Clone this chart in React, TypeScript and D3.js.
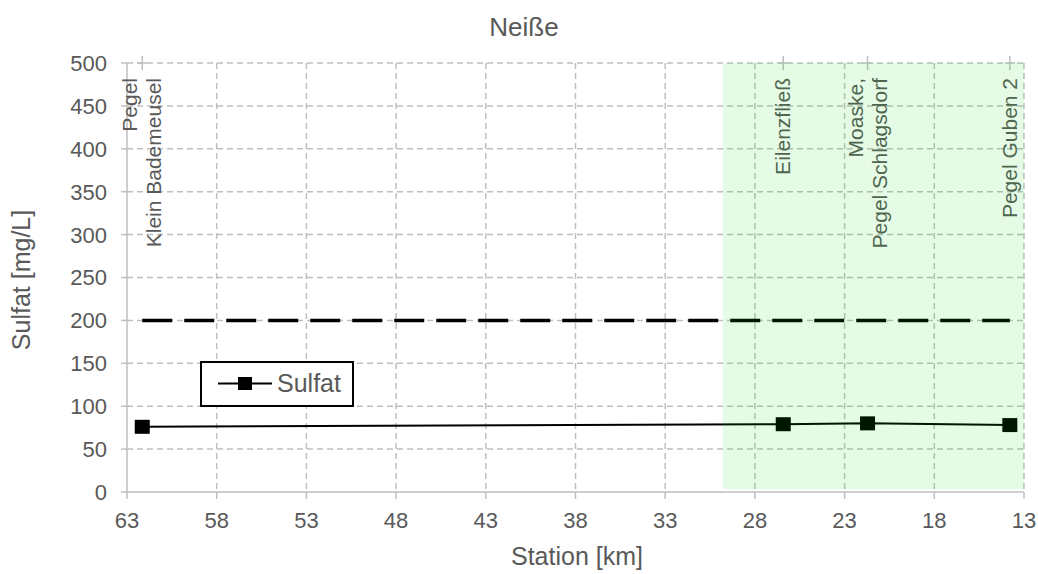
import React from "react";
import * as d3 from "d3";

const title = "Neiße";
const stationKm = [62.15, 26.42, 21.72, 13.79];
const stationNames = [["Pegel", "Klein Bademeusel"], ["Eilenzfließ"], ["Moaske,", "Pegel Schlagsdorf"], ["Pegel Guben 2"]];
const sulfat = [76, 79, 80, 78];
const limitValue = 200;
const xTicks = [63, 58, 53, 48, 43, 38, 33, 28, 23, 18, 13];
const yTicks = [0, 50, 100, 150, 200, 250, 300, 350, 400, 450, 500];
const zoneKm = [29.8, 13];
const seriesName = "Sulfat";
const xTitle = "Station [km]";
const yTitle = "Sulfat [mg/L]";

const W = 1038, H = 574;
const FONT = "'Liberation Sans', Arial, sans-serif";
const TXT = "#595959";
const GRID = "#bfbfbf";

export default function App() {
  const x = d3.scaleLinear().domain([63, 13]).range([127, 1024]);
  const y = d3.scaleLinear().domain([0, 500]).range([492, 63]);
  const line = d3.line<number>().x((_, i) => x(stationKm[i])).y((d) => y(d));
  const xFirst = x(stationKm[0]);
  const xLast = x(stationKm[stationKm.length - 1]);

  return (
    <svg width={W} height={H} style={{ position: "absolute", left: 0, top: 0, background: "#fff" }} fontFamily={FONT}>
      <rect x={0} y={0} width={W} height={H} fill="#fff" />
      {yTicks.filter((t) => t > 0).map((t) => (
        <line key={"hy" + t} x1={x(63)} x2={x(13)} y1={y(t)} y2={y(t)} stroke={GRID} strokeWidth={1.5} strokeDasharray="6,4" />
      ))}
      {xTicks.filter((t) => t !== 63).map((t) => (
        <line key={"vx" + t} x1={x(t)} x2={x(t)} y1={y(500)} y2={y(0)} stroke={GRID} strokeWidth={1.5} strokeDasharray="6,4" />
      ))}
      <line x1={x(63)} x2={x(63)} y1={y(500)} y2={y(0)} stroke={GRID} strokeWidth={1.5} />
      <line x1={x(63)} x2={x(13)} y1={y(0)} y2={y(0)} stroke={GRID} strokeWidth={1.5} />
      {yTicks.map((t) => (
        <g key={"yt" + t}>
          <line x1={x(63) - 6} x2={x(63)} y1={y(t)} y2={y(t)} stroke={GRID} strokeWidth={1.5} />
          <text x={107} y={y(t)} dy="0.36em" textAnchor="end" fontSize={22} fill={TXT}>{t}</text>
        </g>
      ))}
      {xTicks.map((t) => (
        <g key={"xt" + t}>
          <line x1={x(t)} x2={x(t)} y1={y(0)} y2={y(0) + 7} stroke={GRID} strokeWidth={1.5} />
          <text x={x(t)} y={528} textAnchor="middle" fontSize={22} fill={TXT}>{t}</text>
        </g>
      ))}
      {stationKm.map((k, i) => (
        <g key={"st" + i}>
          <line x1={x(k)} x2={x(k)} y1={y(500) - 7} y2={y(500) + 7} stroke={GRID} strokeWidth={1.5} />
          <line x1={x(k) - 5} x2={x(k) + 5} y1={y(500)} y2={y(500)} stroke={GRID} strokeWidth={1.5} />
          <g transform={`translate(${x(k)},78) rotate(-90)`}>
            {stationNames[i].map((s, j) => {
              const n = stationNames[i].length;
              const off = (j - (n - 1) / 2) * 24 + 7;
              return (
                <text key={j} x={0} y={off} textAnchor="end" fontSize={21} fill={TXT}>{s}</text>
              );
            })}
          </g>
        </g>
      ))}
      <line x1={xFirst} x2={xLast} y1={y(limitValue)} y2={y(limitValue)} stroke="#000" strokeWidth={3.5} strokeDasharray="30,12" />
      <path d={line(sulfat) || ""} fill="none" stroke="#000" strokeWidth={2} />
      {sulfat.map((v, i) => (
        <rect key={"m" + i} x={x(stationKm[i]) - 7.5} y={y(v) - 7} width={15} height={14} fill="#000" />
      ))}
      <rect x={x(zoneKm[0])} y={y(500)} width={x(zoneKm[1]) - x(zoneKm[0])} height={y(0) - y(500) - 3} fill="rgb(0,220,0)" fillOpacity={0.1} />
      <rect x={201} y={362} width={152} height={44} fill="#fff" stroke="#000" strokeWidth={2} />
      <line x1={218} x2={272} y1={383.5} y2={383.5} stroke="#000" strokeWidth={2} />
      <rect x={238} y={377} width={14} height={13} fill="#000" />
      <text x={277} y={392} fontSize={25} fill={TXT}>{seriesName}</text>
      <text x={524} y={36} textAnchor="middle" fontSize={26} fill={TXT}>{title}</text>
      <text x={577} y={565} textAnchor="middle" fontSize={25} fill={TXT}>{xTitle}</text>
      <text transform={`translate(30,280) rotate(-90)`} textAnchor="middle" fontSize={25} fill={TXT}>{yTitle}</text>
    </svg>
  );
}
